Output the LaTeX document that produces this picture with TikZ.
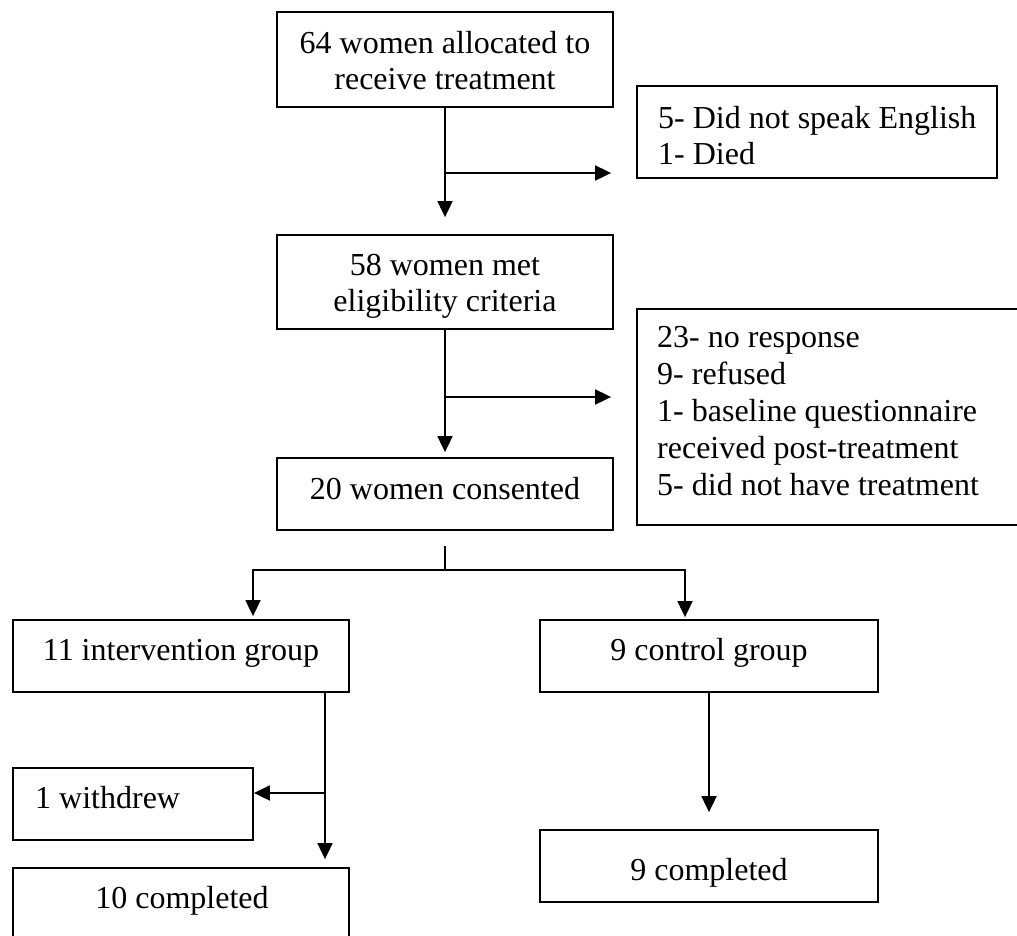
\documentclass[tikz,border=0pt]{standalone}
\usepackage{fontspec}
\setmainfont{Liberation Serif}
\usetikzlibrary{arrows.meta}
\begin{document}
\begin{tikzpicture}[x=1pt,y=-1pt,
  boxstyle/.style={draw,line width=1.8pt,rectangle,inner sep=0pt},
  txt/.style={inner sep=0pt,anchor=base,font=\fontsize{32}{36}\selectfont},
  txtl/.style={txt,anchor=base west},
  line/.style={line width=1.8pt},
  conn/.style={line width=1.8pt,-{Triangle[length=16pt,width=15pt]}}
]
\useasboundingbox (0,0) rectangle (1017,935);
\clip (0,0) rectangle (1017,935);
\fill[white] (0,0) rectangle (1017,935);

% boxes
\node[boxstyle,minimum width=336pt,minimum height=95pt] (b1) at (445,59.5) {};
\node[boxstyle,minimum width=360pt,minimum height=92pt] (b2) at (817,132) {};
\node[boxstyle,minimum width=336pt,minimum height=94pt] (b3) at (445,282) {};
\node[boxstyle,minimum width=392pt,minimum height=216pt] (b4) at (833,417) {};
\node[boxstyle,minimum width=336pt,minimum height=72pt] (b5) at (445,494) {};
\node[boxstyle,minimum width=336pt,minimum height=72pt] (b6) at (181,656) {};
\node[boxstyle,minimum width=338pt,minimum height=72pt] (b7) at (709,656) {};
\node[boxstyle,minimum width=240pt,minimum height=72pt] (b8) at (133,804) {};
\node[boxstyle,minimum width=336pt,minimum height=74pt] (b9) at (181,905) {};
\node[boxstyle,minimum width=338pt,minimum height=72pt] (b10) at (709,866) {};

% texts
\node[txt] (t1) at (445,53) {\begin{tabular}[t]{@{}c@{}}64 women allocated to\\receive treatment\end{tabular}};
\node[txtl] (t2) at (658,128) {\begin{tabular}[t]{@{}l@{}}5- Did not speak English\\1- Died\end{tabular}};
\node[txt] (t3) at (445,275) {\begin{tabular}[t]{@{}c@{}}58 women met\\eligibility criteria\end{tabular}};
\node[txtl,font=\fontsize{32}{37.2}\selectfont] (t4) at (657,347) {\begin{tabular}[t]{@{}l@{}}23- no response\\9- refused\\1- baseline questionnaire\\received post-treatment\\5- did not have treatment\end{tabular}};
\node[txt] (t5) at (445,499) {20 women consented};
\node[txt] (t6) at (181,660) {11 intervention group};
\node[txt] (t7) at (709,660) {9 control group};
\node[txtl] (t8) at (35,808) {1 withdrew};
\node[txt] (t9) at (182,908) {10 completed};
\node[txt] (t10) at (709,880) {9 completed};

% connectors
\coordinate (j1) at (445,173);
\draw[line] (b1.south) -- (j1);
\draw[conn,shorten >=17pt] (j1) -- (b3.north);
\draw[conn,shorten >=25pt] (j1) -- (j1 -| b2.west);

\coordinate (j2) at (445,397);
\draw[line] (b3.south) -- (j2);
\draw[conn,shorten >=5pt] (j2) -- (b5.north);
\draw[conn,shorten >=25pt] (j2) -- (j2 -| b4.west);

\coordinate (j3) at (445,570);
\coordinate (l3) at (253,570);
\coordinate (r3) at (685,570);
\draw[line,shorten <=15pt] (b5.south) -- (j3);
\draw[conn,shorten >=3pt] (j3) -- (l3) -- (l3 |- b6.north);
\draw[conn,shorten >=2pt] (j3) -- (r3) -- (r3 |- b7.north);

\coordinate (j4) at (325,793);
\draw[line] (j4 |- b6.south) -- (j4);
\draw[conn,shorten >=8pt] (j4) -- (j4 |- b9.north);
\draw[conn] (j4) -- (j4 -| b8.east);

\draw[conn,shorten >=17pt] (b7.south) -- (b10.north);
\end{tikzpicture}
\end{document}
